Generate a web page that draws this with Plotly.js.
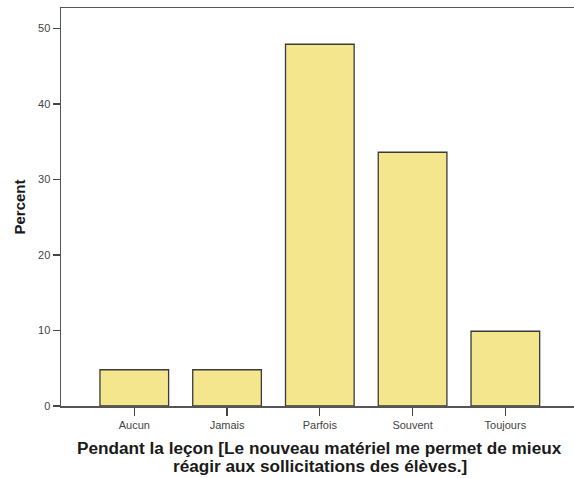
<!DOCTYPE html>
<html>
<head>
<meta charset="utf-8">
<script src="https://cdn.plot.ly/plotly-3.0.1.min.js"></script>
<style>html,body{margin:0;padding:0;background:#fff;}#chart{width:574px;height:478px;}</style>
</head>
<body>
<div id="chart"></div>
<script>
const categories = ["Aucun", "Jamais", "Parfois", "Souvent", "Toujours"];
const percentValues = [4.8, 4.8, 47.9, 33.6, 9.9];
const yTickValues = [0, 10, 20, 30, 40, 50];
const xTitleLines = [
  "Pendant la leçon [Le nouveau matériel me permet de mieux",
  "réagir aux sollicitations des élèves.]"
];

const trace = {
  type: "bar",
  x: [0, 1, 2, 3, 4],
  y: percentValues,
  width: 0.74,
  marker: { color: "#F3E68C", line: { color: "#3a3a3a", width: 1.3 } },
  hoverinfo: "none"
};

const titleFont = { size: 17.2, color: "#1a1a1a", family: "Liberation Sans, Arial, sans-serif" };

const layout = {
  width: 574, height: 478,
  margin: { l: 61, r: 0, t: 8, b: 72 },
  paper_bgcolor: "#ffffff", plot_bgcolor: "#ffffff",
  showlegend: false,
  font: { family: "Liberation Sans, Arial, sans-serif", color: "#444" },
  xaxis: {
    range: [-0.79, 4.74],
    tickmode: "array", tickvals: [0, 1, 2, 3, 4], ticktext: categories,
    ticks: "outside", ticklen: 8, tickcolor: "#444", tickwidth: 1.3,
    tickfont: { size: 11, color: "#444" },
    showline: true, linecolor: "#555", linewidth: 1.5, mirror: true,
    showgrid: false, zeroline: false, fixedrange: true
  },
  yaxis: {
    range: [0, 52.7],
    tickmode: "array", tickvals: yTickValues,
    ticks: "outside", ticklen: 7, tickcolor: "#444", tickwidth: 1.3,
    tickfont: { size: 11, color: "#444" },
    showline: true, linecolor: "#555", linewidth: 1.5,
    showgrid: false, zeroline: false, fixedrange: true,
    title: { text: "<b>Percent</b>", font: { size: 15, color: "#1a1a1a" }, standoff: 9 }
  },
  annotations: [
    { text: "<b>" + xTitleLines[0] + "</b>", xref: "paper", yref: "paper", x: 0.504, y: -0.1055,
      xanchor: "center", yanchor: "middle", showarrow: false, font: titleFont },
    { text: "<b>" + xTitleLines[1] + "</b>", xref: "paper", yref: "paper", x: 0.504, y: -0.1508,
      xanchor: "center", yanchor: "middle", showarrow: false, font: titleFont }
  ]
};

Plotly.newPlot("chart", [trace], layout, { staticPlot: true, displayModeBar: false });
</script>
</body>
</html>
